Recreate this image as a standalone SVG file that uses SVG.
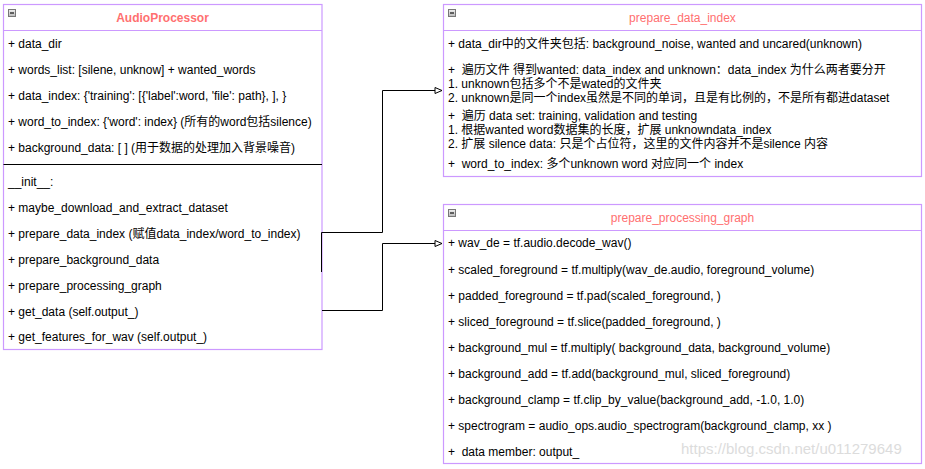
<svg xmlns="http://www.w3.org/2000/svg" width="925" height="469" viewBox="0 0 925 469">
<style>
text{font-family:"Liberation Sans","Noto Sans CJK SC",sans-serif;font-size:12px;fill:#000}
.box{fill:#fff;stroke:#CC99FF;stroke-width:1.2}
.sep{stroke:#CC99FF;stroke-width:1.2}
.title{fill:#FF7070;text-anchor:middle}
.bold{font-weight:bold}
.icon{fill:url(#ig);stroke:#777;stroke-width:1}
.minus{stroke:#111;stroke-width:1.2}
.conn{fill:none;stroke:#000;stroke-width:1}
.wm{fill:#dcdcdc;font-size:15px}
</style>
<defs>
<linearGradient id="ig" x1="0" y1="0" x2="0" y2="1">
<stop offset="0" stop-color="#f0f0f0"/>
<stop offset="1" stop-color="#b8b8b8"/>
</linearGradient>
<marker id="tri" markerWidth="10" markerHeight="10" refX="8" refY="4" orient="auto" markerUnits="userSpaceOnUse">
<path d="M1,1 L8,4 L1,7 Z" fill="#fff" stroke="#000" stroke-width="1"/>
</marker>
</defs>
<g id="AudioProcessor">
<rect class="box" x="3.5" y="4.5" width="318.5" height="345"/>
<line class="sep" x1="3.5" y1="30.5" x2="322" y2="30.5"/>
<rect class="icon" x="8.5" y="9.5" width="7" height="7"/>
<line class="minus" x1="10" y1="13" x2="14" y2="13"/>
<text class="title bold" x="162.5" y="22">AudioProcessor</text>
<text x="8" y="47.5">+ data_dir</text>
<text x="8" y="73.5">+ words_list: [silene, unknow] + wanted_words</text>
<text x="8" y="99.5">+ data_index: {'training': [{'label':word, 'file': path}, ], }</text>
<text x="8" y="125.5">+ word_to_index: {'word': index} (所有的word包括silence)</text>
<text x="8" y="151.5">+ background_data: [ ] (用于数据的处理加入背景噪音)</text>
<line x1="3.5" y1="164.5" x2="322" y2="164.5" stroke="#000" stroke-width="1"/>
<text x="8" y="186">__init__:</text>
<text x="8" y="212">+ maybe_download_and_extract_dataset</text>
<text x="8" y="238">+ prepare_data_index (赋值data_index/word_to_index)</text>
<text x="8" y="263.8">+ prepare_background_data</text>
<text x="8" y="289.7">+ prepare_processing_graph</text>
<text x="8" y="315.5">+ get_data (self.output_)</text>
<text x="8" y="341.4">+ get_features_for_wav (self.output_)</text>
</g>
<g id="prepare_data_index">
<rect class="box" x="443.5" y="4.5" width="478" height="172"/>
<line class="sep" x1="443.5" y1="30.5" x2="921.5" y2="30.5"/>
<rect class="icon" x="448.5" y="9.5" width="7" height="7"/>
<line class="minus" x1="450" y1="13" x2="454" y2="13"/>
<text class="title" x="682.5" y="22">prepare_data_index</text>
<text x="448" y="47.5">+ data_dir中的文件夹包括: background_noise, wanted and uncared(unknown)</text>
<text x="448" y="74" xml:space="preserve">+  遍历文件 得到wanted: data_index and unknown：data_index 为什么两者要分开</text>
<text x="448" y="87.5">1. unknown包括多个不是wated的文件夹</text>
<text x="448" y="101.5">2. unknown是同一个index虽然是不同的单词，且是有比例的，不是所有都进dataset</text>
<text x="448" y="120" xml:space="preserve">+  遍历 data set: training, validation and testing</text>
<text x="448" y="134">1. 根据wanted word数据集的长度，扩展 unknowndata_index</text>
<text x="448" y="147.5">2. 扩展 silence data: 只是个占位符，这里的文件内容并不是silence 内容</text>
<text x="448" y="168" xml:space="preserve">+  word_to_index: 多个unknown word 对应同一个 index</text>
</g>
<g id="prepare_processing_graph">
<rect class="box" x="443.5" y="204.5" width="478" height="259"/>
<line class="sep" x1="443.5" y1="230.5" x2="921.5" y2="230.5"/>
<rect class="icon" x="448.5" y="209.5" width="7" height="7"/>
<line class="minus" x1="450" y1="213" x2="454" y2="213"/>
<text class="title" x="682.5" y="222">prepare_processing_graph</text>
<text x="448" y="247.3">+ wav_de = tf.audio.decode_wav()</text>
<text x="448" y="274">+ scaled_foreground = tf.multiply(wav_de.audio, foreground_volume)</text>
<text x="448" y="300">+ padded_foreground = tf.pad(scaled_foreground, )</text>
<text x="448" y="325.7">+ sliced_foreground = tf.slice(padded_foreground, )</text>
<text x="448" y="351.5">+ background_mul = tf.multiply( background_data, background_volume)</text>
<text x="448" y="377.5">+ background_add = tf.add(background_mul, sliced_foreground)</text>
<text x="448" y="404">+ background_clamp = tf.clip_by_value(background_add, -1.0, 1.0)</text>
<text x="448" y="430">+ spectrogram = audio_ops.audio_spectrogram(background_clamp, xx )</text>
<text x="448" y="455.7" xml:space="preserve">+  data member: output_</text>
</g>
<g id="connectors">
<path class="conn" d="M321.5,272 V232.5 H382.5 V90.5 H442" marker-end="url(#tri)"/>
<path class="conn" d="M322,310.5 H382.5 V243.5 H442" marker-end="url(#tri)"/>
</g>
<text class="wm" x="681" y="453.5">https://blog.csdn.net/u011279649</text>
</svg>
